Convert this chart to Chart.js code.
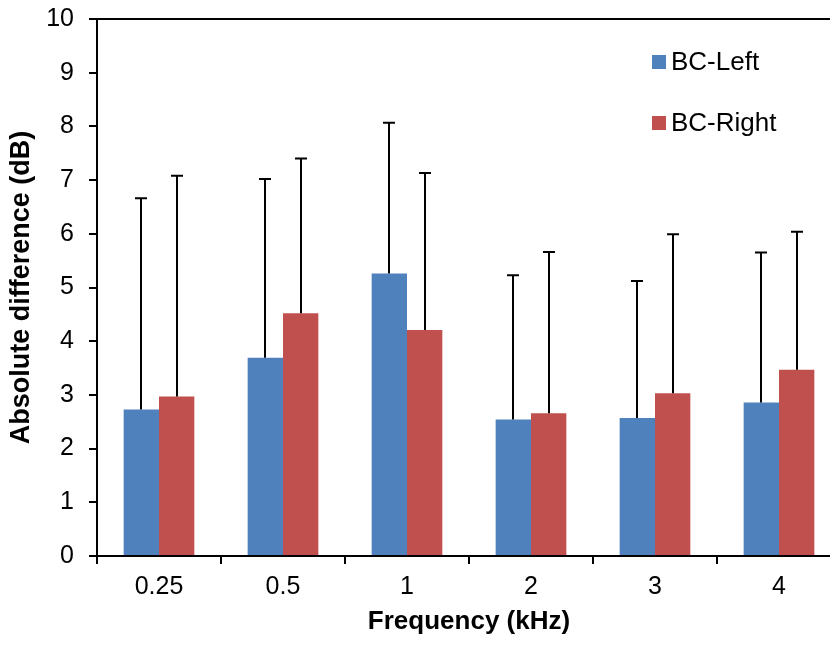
<!DOCTYPE html>
<html>
<head>
<meta charset="utf-8">
<script src="https://cdn.jsdelivr.net/npm/chart.js@4/dist/chart.umd.min.js"></script>
<style>
  html, body { margin: 0; padding: 0; background: #fff; overflow: hidden; width: 830px; height: 645px; }
  #wrap { width: 841px; height: 645px; }
</style>
</head>
<body>
<div id="wrap"><canvas id="c" width="841" height="645"></canvas></div>
<script>
const categories = ['0.25', '0.5', '1', '2', '3', '4'];
const leftValues = [2.73, 3.69, 5.26, 2.54, 2.57, 2.86];
const leftErrors = [3.93, 3.33, 2.81, 2.69, 2.55, 2.79];
const rightValues = [2.97, 4.52, 4.21, 2.66, 3.03, 3.47];
const rightErrors = [4.11, 2.88, 2.92, 3.00, 2.96, 2.57];
const seriesLabels = ['BC-Left', 'BC-Right'];
const yTicks = [0, 1, 2, 3, 4, 5, 6, 7, 8, 9, 10];
const xTitle = 'Frequency (kHz)';
const yTitle = 'Absolute difference (dB)';

const FONT = "'Liberation Sans', Arial, sans-serif";
const errors = [leftErrors, rightErrors];

const errorBarPlugin = {
  id: 'errorBars',
  afterDatasetsDraw(chart) {
    const ctx = chart.ctx;
    const yScale = chart.scales.y;
    ctx.save();
    ctx.strokeStyle = '#000';
    ctx.lineWidth = 2;
    chart.data.datasets.forEach((ds, di) => {
      const meta = chart.getDatasetMeta(di);
      meta.data.forEach((bar, i) => {
        const v = ds.data[i];
        const top = yScale.getPixelForValue(v + errors[di][i]);
        const x = Math.round(bar.x);
        ctx.beginPath();
        ctx.moveTo(x, bar.y);
        ctx.lineTo(x, top);
        ctx.moveTo(x - 6, top);
        ctx.lineTo(x + 6, top);
        ctx.stroke();
      });
    });
    ctx.restore();
  }
};

const legendPlugin = {
  id: 'insideLegend',
  afterDraw(chart) {
    const ctx = chart.ctx;
    ctx.save();
    ctx.font = '26px ' + FONT;
    ctx.textBaseline = 'middle';
    ctx.textAlign = 'left';
    chart.data.datasets.forEach((ds, di) => {
      const cy = 62 + di * 61;
      ctx.fillStyle = ds.backgroundColor;
      ctx.fillRect(652, cy - 7, 14, 14);
      ctx.fillStyle = '#000';
      ctx.fillText(ds.label, 671, cy + 1);
    });
    ctx.restore();
  }
};

new Chart(document.getElementById('c'), {
  type: 'bar',
  data: {
    labels: categories,
    datasets: [
      { label: seriesLabels[0], data: leftValues, backgroundColor: '#4F81BD', borderWidth: 0,
        categoryPercentage: 0.57, barPercentage: 1.0 },
      { label: seriesLabels[1], data: rightValues, backgroundColor: '#C0504D', borderWidth: 0,
        categoryPercentage: 0.57, barPercentage: 1.0 }
    ]
  },
  options: {
    responsive: false,
    animation: false,
    devicePixelRatio: 1,
    layout: { padding: { top: 19, left: 0, right: 0, bottom: 0 } },
    plugins: { legend: { display: false }, tooltip: { enabled: false } },
    scales: {
      x: {
        afterFit(scale) { scale.height = 89; scale.paddingLeft = 0; scale.paddingRight = 0; },
        grid: { display: true, drawOnChartArea: false, drawTicks: true, tickLength: 8,
                tickColor: '#000', color: '#000', lineWidth: 2, offset: true },
        border: { display: true, color: '#000', width: 2 },
        ticks: { color: '#000', font: { family: FONT, size: 25 }, padding: 8, maxRotation: 0 },
        title: { display: true, text: xTitle, color: '#000',
                 font: { family: FONT, size: 26, weight: 'bold' }, padding: { top: 0, bottom: 8 } }
      },
      y: {
        min: 0, max: 10,
        afterFit(scale) { scale.width = 97; scale.paddingTop = 0; scale.paddingBottom = 0; },
        afterBuildTicks(scale) { scale.ticks = yTicks.map(v => ({ value: v })); },
        grid: { display: true, drawOnChartArea: true, drawTicks: true, tickLength: 8,
                tickColor: '#000', lineWidth: 2,
                color: (c) => (c.tick && c.tick.value === 10 ? '#000' : 'rgba(0,0,0,0)') },
        border: { display: true, color: '#000', width: 2 },
        ticks: { color: '#000', font: { family: FONT, size: 25 }, padding: 15, stepSize: 1 },
        title: { display: true, text: yTitle, color: '#000',
                 font: { family: FONT, size: 27, weight: 'bold' }, padding: { top: 5, bottom: 0 } }
      }
    }
  },
  plugins: [errorBarPlugin, legendPlugin]
});
</script>
</body>
</html>
